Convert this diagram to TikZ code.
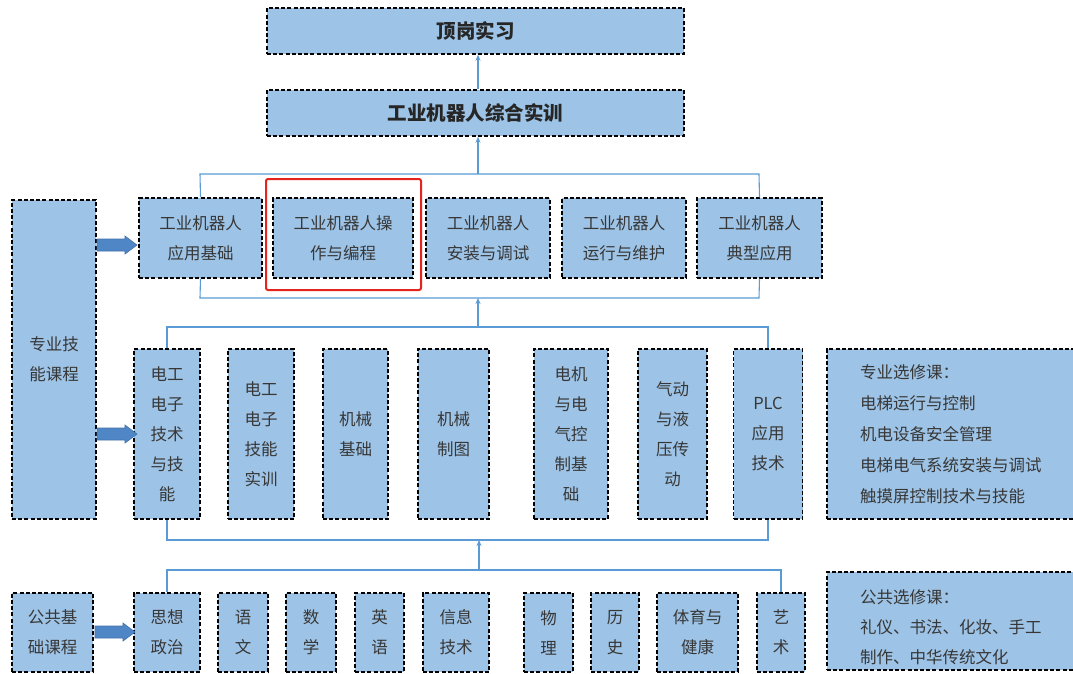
\documentclass[tikz,border=0pt]{standalone}
\usepackage{fontspec}
\setmainfont{Noto Sans CJK SC}
\usetikzlibrary{arrows.meta}
\definecolor{boxfill}{RGB}{157,195,230}
\definecolor{linkcol}{RGB}{91,155,213}
\definecolor{arrfill}{RGB}{79,134,198}
\definecolor{arrline}{RGB}{65,113,170}
\definecolor{txt}{RGB}{55,55,55}
\definecolor{redframe}{RGB}{230,36,30}
\tikzset{
  box/.style={draw=black, fill=boxfill, line width=1.4pt, dash pattern=on 4pt off 2.2pt,
    inner sep=0pt, align=center, text=txt, font=\fontsize{16.5}{30}\selectfont},
  topbox/.style={box, font=\fontsize{19.5}{24}\selectfont\bfseries, text=black!85},
  link/.style={draw=linkcol, line width=1.1pt},
  uparrow/.style={link, -{Stealth[length=6pt,width=5pt]}},
  bigarrow/.style={fill=arrfill, draw=arrline, line width=0.6pt},
  redbox/.style={draw=redframe, line width=2pt, rounded corners=2pt},
}
\newcommand{\bigarr}[1]{%
  \filldraw[bigarrow] (#1) ++(0,-6) -- ++(28,0) -- ++(0,-3) -- ++(12,9) -- ++(-12,9) -- ++(0,-3) -- ++(-28,0) -- cycle;}
\begin{document}
\begin{tikzpicture}[x=1pt,y=-1pt]
\clip (0,0) rectangle (1073,673);
\fill[white] (0,0) rectangle (1073,673);

% top boxes
\node[topbox, minimum width=417pt, minimum height=46pt] (dg) at (475.5,31) {顶岗实习};
\node[topbox, minimum width=417pt, minimum height=46pt] (zh) at (475.5,113) {工业机器人综合实训};

% left category boxes
\node[box, minimum width=84pt, minimum height=319pt] (zy) at (54,359.5) {专业技\\能课程};
\node[box, minimum width=81pt, minimum height=79pt] (gg) at (52.5,632.5) {公共基\\础课程};

% row 2
\node[box, minimum width=123pt, minimum height=80pt] (r2a) at (200.5,238) {工业机器人\\应用基础};
\node[box, minimum width=140pt, minimum height=80pt] (r2b) at (343,238) {工业机器人操\\作与编程};
\node[box, minimum width=124pt, minimum height=80pt] (r2c) at (488,238) {工业机器人\\安装与调试};
\node[box, minimum width=124pt, minimum height=80pt] (r2d) at (624,238) {工业机器人\\运行与维护};
\node[box, minimum width=125pt, minimum height=80pt] (r2e) at (759.5,238) {工业机器人\\典型应用};
\draw[redbox] (266,179) rectangle (421,290);

% row 3
\node[box, minimum width=66pt, minimum height=170pt] (r3a) at (167,434) {电工\\电子\\技术\\与技\\能};
\node[box, minimum width=66pt, minimum height=170pt] (r3b) at (261,434) {电工\\电子\\技能\\实训};
\node[box, minimum width=65pt, minimum height=170pt] (r3c) at (355.5,434) {机械\\基础};
\node[box, minimum width=71pt, minimum height=170pt] (r3d) at (453.5,434) {机械\\制图};
\node[box, minimum width=74pt, minimum height=170pt] (r3e) at (571,434) {电机\\与电\\气控\\制基\\础};
\node[box, minimum width=69pt, minimum height=170pt] (r3f) at (672.5,434) {气动\\与液\\压传\\动};
\node[box, minimum width=69pt, minimum height=170pt] (r3g) at (768,434) {PLC\\应用\\技术};
\node[box, minimum width=253pt, minimum height=170pt] (r3h) at (953.5,434) {};
\node[anchor=west, align=left, text=txt, inner sep=0pt, font=\fontsize{16.5}{31}\selectfont] (r3ht) at (860,434) {专业选修课：\\电梯运行与控制\\机电设备安全管理\\电梯电气系统安装与调试\\触摸屏控制技术与技能};

% row 4
\node[box, minimum width=66pt, minimum height=79pt] (r4a) at (167,632.5) {思想\\政治};
\node[box, minimum width=50pt, minimum height=79pt] (r4b) at (243,632.5) {语\\文};
\node[box, minimum width=50pt, minimum height=79pt] (r4c) at (311,632.5) {数\\学};
\node[box, minimum width=49pt, minimum height=79pt] (r4d) at (379.5,632.5) {英\\语};
\node[box, minimum width=66pt, minimum height=79pt] (r4e) at (456,632.5) {信息\\技术};
\node[box, minimum width=49pt, minimum height=79pt] (r4f) at (548.5,632.5) {物\\理};
\node[box, minimum width=48pt, minimum height=79pt] (r4g) at (615,632.5) {历\\史};
\node[box, minimum width=81pt, minimum height=79pt] (r4h) at (697.5,632.5) {体育与\\健康};
\node[box, minimum width=48pt, minimum height=79pt] (r4i) at (781,632.5) {艺\\术};
\node[box, minimum width=253pt, minimum height=98pt] (r4j) at (953.5,621) {};
\node[anchor=west, align=left, text=txt, inner sep=0pt, font=\fontsize{16.5}{30}\selectfont] (r4jt) at (860,627) {公共选修课：\\礼仪、书法、化妆、手工\\制作、中华传统文化};

% connectors
\coordinate (t2l) at (200,174);
\coordinate (t2r) at (759,174);
\coordinate (t2m) at (478,174);
\draw[link] (r2a.north) -- (t2l) -- (t2r) -- (r2e.north);
\draw[uparrow] (t2m) -- (t2m |- zh.south);
\draw[uparrow] (t2m |- zh.north) -- (t2m |- dg.south);

\coordinate (b2l) at (200,298);
\coordinate (b2r) at (759,298);
\coordinate (b2m) at (478,298);
\draw[link] (r2a.south) -- (b2l) -- (b2r) -- (r2e.south);

\coordinate (t3l) at (167,327);
\coordinate (t3r) at (768,327);
\coordinate (t3m) at (478,327);
\draw[link] (r3a.north) -- (t3l) -- (t3r) -- (r3g.north);
\draw[uparrow] (t3m) -- (b2m);

\coordinate (b3l) at (167,540);
\coordinate (b3r) at (768,540);
\coordinate (b3m) at (479,540);
\draw[link] (r3a.south) -- (b3l) -- (b3r) -- (r3g.south);

\coordinate (t4l) at (167,570);
\coordinate (t4r) at (781,570);
\coordinate (t4m) at (479,570);
\draw[link] (r4a.north) -- (t4l) -- (t4r) -- (r4i.north);
\draw[uparrow] (t4m) -- (b3m);

% big arrows
\coordinate (ba1) at (97,245);
\coordinate (ba2) at (97,434);
\coordinate (ba3) at (95,632);
\bigarr{ba1}
\bigarr{ba2}
\bigarr{ba3}
\end{tikzpicture}
\end{document}
